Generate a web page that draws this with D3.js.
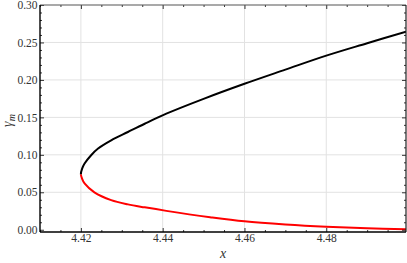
<!DOCTYPE html>
<html><head><meta charset="utf-8">
<script src="https://cdn.jsdelivr.net/npm/d3@7/dist/d3.min.js"></script>
<style>html,body{margin:0;padding:0;background:#fff}</style>
</head><body>
<svg id="c" width="407" height="263"></svg>
<script>
const xMajor = [4.42, 4.44, 4.46, 4.48];
const yMajor = [0.00, 0.05, 0.10, 0.15, 0.20, 0.25, 0.30];
const foldX = 4.4200, foldY = 0.0742;
const blackX = [4.4203, 4.4209, 4.4225, 4.4242, 4.4274, 4.4315, 4.4356, 4.4409, 4.4500, 4.4600, 4.4700, 4.4800, 4.4900, 4.4995];
const blackY = [0.0815, 0.0884, 0.0995, 0.1084, 0.1194, 0.1305, 0.1415, 0.1549, 0.1747, 0.1948, 0.2137, 0.2324, 0.2490, 0.2645];
const redX = [4.4203, 4.4209, 4.4233, 4.4274, 4.4315, 4.4356, 4.4409, 4.4516, 4.4600, 4.4700, 4.4800, 4.4900, 4.4995];
const redY = [0.0680, 0.0618, 0.0500, 0.0396, 0.0339, 0.0299, 0.0252, 0.0168, 0.0112, 0.0070, 0.0040, 0.0020, 0.0007];

const L = 40, R = 406, T = 5, B = 232;
const font = "Liberation Serif";
const svg = d3.select("#c");
const x = d3.scaleLinear().domain([4.41, 4.4995]).range([L, R]);
const y = d3.scaleLinear().domain([-0.003, 0.30]).range([B, T]);

const xMinor = d3.range(4.41, 4.4996, 0.005).filter(v => !xMajor.some(m => Math.abs(m - v) < 1e-6));
const yMinor = d3.range(0, 0.3001, 0.01).filter(v => !yMajor.some(m => Math.abs(m - v) < 1e-6));

// grid
const g = svg.append("g");
g.selectAll("line.gx").data(xMajor).join("line")
  .attr("x1", d => x(d)).attr("x2", d => x(d)).attr("y1", T).attr("y2", B)
  .attr("stroke", "#e2e2e2").attr("stroke-width", 1);
g.selectAll("line.gy").data(yMajor.filter(v => v > 0 && v < 0.3)).join("line")
  .attr("y1", d => y(d)).attr("y2", d => y(d)).attr("x1", L).attr("x2", R)
  .attr("stroke", "#e2e2e2").attr("stroke-width", 1);

// curves: one continuous path through the fold, coloured by branch via clipping
const pts = redX.map((v, i) => [v, redY[i]]).reverse()
  .concat([[foldX, foldY]])
  .concat(blackX.map((v, i) => [v, blackY[i]]));
const defs = svg.append("defs");
defs.append("clipPath").attr("id", "clipTop").append("rect")
  .attr("x", L).attr("y", T).attr("width", R - L).attr("height", y(foldY) - T);
defs.append("clipPath").attr("id", "clipBot").append("rect")
  .attr("x", L).attr("y", y(foldY)).attr("width", R - L).attr("height", B - y(foldY));
const line = d3.line().x(d => x(d[0])).y(d => y(d[1])).curve(d3.curveCatmullRom.alpha(0.5));
svg.append("path").datum(pts).attr("d", line).attr("fill", "none")
  .attr("stroke", "#ff0000").attr("stroke-width", 2).attr("clip-path", "url(#clipBot)");
svg.append("path").datum(pts).attr("d", line).attr("fill", "none")
  .attr("stroke", "#000").attr("stroke-width", 2).attr("clip-path", "url(#clipTop)");

// axes
function styleAxis(sel) {
  sel.attr("font-family", null).attr("font-size", null);
  sel.select(".domain").remove();
  sel.selectAll(".tick line").attr("stroke", "#000").attr("stroke-width", 0.8);
  sel.selectAll("text").attr("font-family", font).attr("font-size", 11.5).attr("fill", "#333");
}
svg.append("g").attr("transform", `translate(0,${B})`)
  .call(d3.axisBottom(x).tickValues(xMajor).tickSize(-4).tickPadding(2).tickFormat(d3.format(".2f"))).call(styleAxis);
svg.append("g").attr("transform", `translate(0,${B})`)
  .call(d3.axisBottom(x).tickValues(xMinor).tickSize(-2).tickFormat("")).call(styleAxis);
svg.append("g").attr("transform", `translate(0,${T})`)
  .call(d3.axisTop(x).tickValues(xMajor).tickSize(-4).tickFormat("")).call(styleAxis);
svg.append("g").attr("transform", `translate(0,${T})`)
  .call(d3.axisTop(x).tickValues(xMinor).tickSize(-2).tickFormat("")).call(styleAxis);
svg.append("g").attr("transform", `translate(${L},0)`)
  .call(d3.axisLeft(y).tickValues(yMajor).tickSize(-4).tickPadding(2.5).tickFormat(d3.format(".2f"))).call(styleAxis);
svg.append("g").attr("transform", `translate(${L},0)`)
  .call(d3.axisLeft(y).tickValues(yMinor).tickSize(-2).tickFormat("")).call(styleAxis);
svg.append("g").attr("transform", `translate(${R},0)`)
  .call(d3.axisRight(y).tickValues(yMajor).tickSize(-4).tickFormat("")).call(styleAxis);
svg.append("g").attr("transform", `translate(${R},0)`)
  .call(d3.axisRight(y).tickValues(yMinor).tickSize(-2).tickFormat("")).call(styleAxis);

// frame
svg.append("line").attr("x1", L).attr("x2", R).attr("y1", T).attr("y2", T).attr("stroke", "#555").attr("stroke-width", 1.2);
svg.append("line").attr("x1", R).attr("x2", R).attr("y1", T).attr("y2", B).attr("stroke", "#222").attr("stroke-width", 1.2);
svg.append("line").attr("x1", L).attr("x2", R).attr("y1", B).attr("y2", B).attr("stroke", "#000").attr("stroke-width", 1.4);
svg.append("line").attr("x1", L).attr("x2", L).attr("y1", T).attr("y2", B).attr("stroke", "#000").attr("stroke-width", 1.4);

// axis labels
svg.append("text").attr("x", (L + R) / 2).attr("y", 258).attr("text-anchor", "middle")
  .attr("font-family", font).attr("font-size", 14).attr("font-style", "italic").attr("fill", "#333").text("x");
const yl = svg.append("text").attr("transform", `translate(12,${(T + B) / 2 + 2}) rotate(-90)`)
  .attr("text-anchor", "middle").attr("font-family", font).attr("font-size", 14)
  .attr("font-style", "italic").attr("fill", "#333");
yl.append("tspan").text("γ");
yl.append("tspan").attr("font-size", 10).attr("dy", 3).text("m");
</script>
</body></html>
